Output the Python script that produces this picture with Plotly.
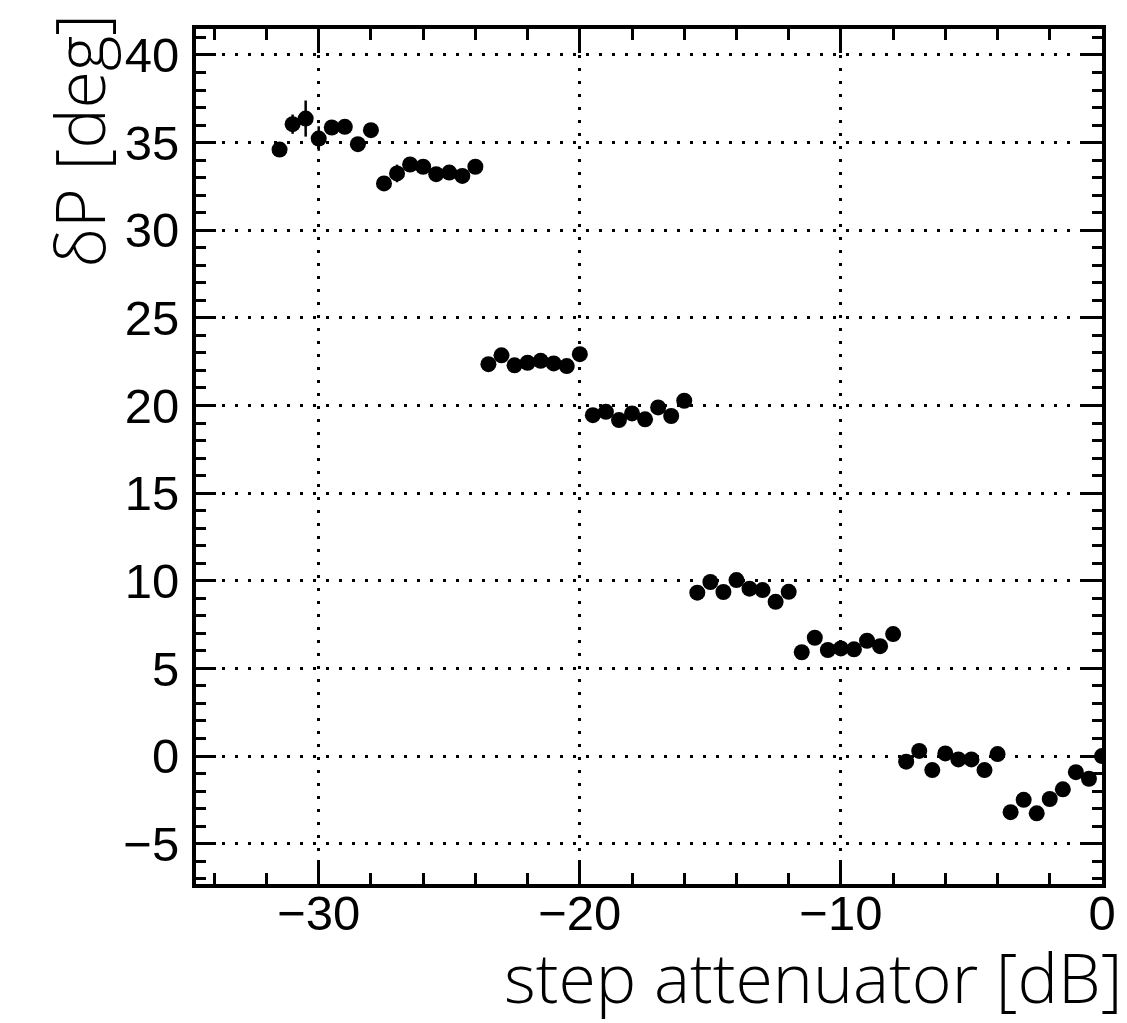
import plotly.graph_objects as go

x_db = [-31.5 + 0.5 * i for i in range(64)]
dP_deg = [
    34.6, 36.05, 36.37, 35.23, 35.86, 35.9, 34.91, 35.71,
    32.67, 33.24, 33.75, 33.62, 33.2, 33.29, 33.1, 33.62,
    22.36, 22.86, 22.29, 22.44, 22.55, 22.4, 22.25, 22.93,
    19.45, 19.64, 19.17, 19.55, 19.21, 19.89, 19.40, 20.27,
    9.32, 9.93, 9.36, 10.04, 9.55, 9.47, 8.80, 9.37,
    5.92, 6.75, 6.05, 6.14, 6.09, 6.58, 6.27, 6.96,
    -0.32, 0.29, -0.80, 0.15, -0.19, -0.19, -0.80, 0.11,
    -3.2, -2.5, -3.27, -2.45, -1.9, -0.92, -1.3, 0.0,
]
dP_err = [
    0.3, 0.55, 1.03, 0.7, 0.3, 0.3, 0.3, 0.3,
    0.3, 0.5, 0.3, 0.3, 0.3, 0.3, 0.3, 0.3,
    0.2, 0.2, 0.2, 0.2, 0.2, 0.2, 0.2, 0.2,
    0.2, 0.2, 0.2, 0.2, 0.2, 0.2, 0.2, 0.2,
    0.2, 0.2, 0.2, 0.2, 0.2, 0.2, 0.2, 0.2,
    0.2, 0.2, 0.2, 0.2, 0.2, 0.2, 0.2, 0.2,
    0.2, 0.2, 0.2, 0.2, 0.2, 0.2, 0.2, 0.2,
    0.2, 0.2, 0.2, 0.2, 0.2, 0.2, 0.2, 0.2,
]

x_range = [-34.7, 0]
y_range = [-7.3, 41.48]
x_title = "step attenuator [dB]"
y_title = "δP [deg]"

fig = go.Figure()
fig.add_trace(go.Scatter(
    x=x_db, y=dP_deg, mode="markers",
    marker=dict(color="black", size=16, symbol="circle"),
    error_y=dict(type="data", array=dP_err, color="black", thickness=2.5, width=0),
    showlegend=False,
))
# invisible trace that activates the label-only axes
fig.add_trace(go.Scatter(
    x=x_db, y=dP_deg, mode="markers", xaxis="x2", yaxis="y2",
    marker=dict(opacity=0), hoverinfo="skip", showlegend=False,
))

tickfont = dict(family="Liberation Sans, Arial, sans-serif", size=49, color="black")
titlefont = dict(family="Open Sans, sans-serif", size=68, color="black", weight=300)

fig.update_layout(
    xaxis=dict(
        range=x_range, tickmode="linear", tick0=0, dtick=10,
        showline=True, linecolor="black", linewidth=4, mirror="ticks",
        ticks="inside", ticklen=24, tickwidth=3, tickcolor="black",
        minor=dict(ticks="inside", ticklen=11, tickwidth=3, tickcolor="black",
                   dtick=2, tick0=0, showgrid=False),
        showgrid=True, gridcolor="black", gridwidth=3, griddash="3px,10px",
        zeroline=False, showticklabels=False,
    ),
    yaxis=dict(
        range=y_range, tickmode="linear", tick0=0, dtick=5,
        showline=True, linecolor="black", linewidth=4, mirror="ticks",
        ticks="inside", ticklen=20, tickwidth=3, tickcolor="black",
        minor=dict(ticks="inside", ticklen=10, tickwidth=3, tickcolor="black",
                   dtick=1, tick0=0, showgrid=False),
        showgrid=True, gridcolor="black", gridwidth=3, griddash="3px,10px",
        zeroline=False, showticklabels=False,
    ),
    xaxis2=dict(
        range=x_range, tickmode="linear", tick0=0, dtick=10,
        overlaying="x", anchor="free", position=0.0047, side="bottom",
        showline=False, ticks="", showgrid=False, zeroline=False,
        tickfont=tickfont,
    ),
    yaxis2=dict(
        range=y_range, tickmode="linear", tick0=0, dtick=5,
        overlaying="y", anchor="free", position=0, side="left",
        showline=False, ticks="outside", ticklen=7, tickcolor="rgba(0,0,0,0)",
        showgrid=False, zeroline=False,
        tickfont=tickfont,
    ),
)

fig.add_annotation(text=x_title, xref="paper", yref="paper", x=1, y=0,
                   xanchor="right", yanchor="top", xshift=22, yshift=-44,
                   showarrow=False, font=titlefont)
fig.add_annotation(text=y_title, xref="paper", yref="paper", x=0, y=1,
                   xanchor="center", yanchor="top", xshift=-118, yshift=16,
                   textangle=-90, showarrow=False, font=titlefont)

fig.update_layout(
    width=1127, height=1023,
    margin=dict(l=196, r=25, t=29, b=139),
    paper_bgcolor="white", plot_bgcolor="white",
)

fig.write_html("out.html")
